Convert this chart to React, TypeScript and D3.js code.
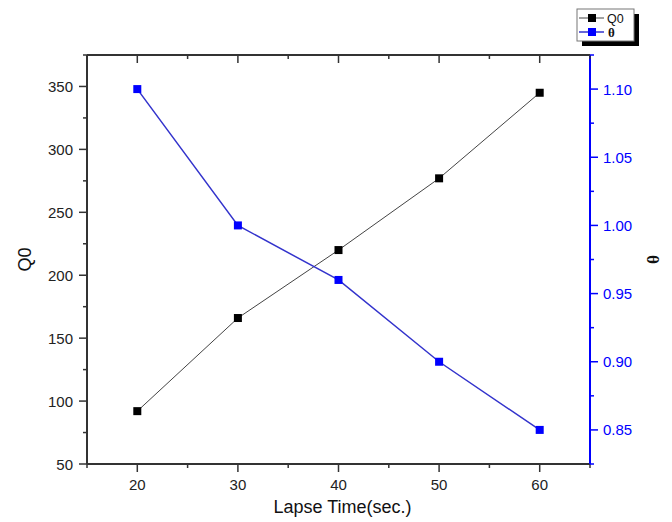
import React from "react";
import * as d3 from "d3";

const lapseTimes = [20, 30, 40, 50, 60];
const q0Values = [92, 166, 220, 277, 345];
const thetaValues = [1.1, 1.0, 0.96, 0.9, 0.85];
const xTicks = [20, 30, 40, 50, 60];
const xMinor = [15, 25, 35, 45, 55, 65];
const leftTicks = [50, 100, 150, 200, 250, 300, 350];
const leftMinor = [75, 125, 175, 225, 275, 325, 375];
const rightTicks = [0.85, 0.9, 0.95, 1.0, 1.05, 1.1];
const rightMinor = [0.825, 0.875, 0.925, 0.975, 1.025, 1.075, 1.125];

const L = 87, R = 590, T = 55, B = 464;
const BLUE = "#0000ff";
const AXIS = "#333";
const FONT = "Liberation Sans, Arial, sans-serif";

export default function App() {
  const x = d3.scaleLinear().domain([15, 65]).range([L, R]);
  const yL = d3.scaleLinear().domain([50, 375]).range([B, T]);
  const yR = d3.scaleLinear().domain([0.825, 1.125]).range([B, T]);

  const q0Line = d3.line<number>().x((_, i) => x(lapseTimes[i])).y((d) => yL(d))(q0Values) || "";
  const thLine = d3.line<number>().x((_, i) => x(lapseTimes[i])).y((d) => yR(d))(thetaValues) || "";
  const ms = 8;

  return (
    <svg width={672} height={522} style={{ position: "absolute", left: 0, top: 0, background: "#fff" }} fontFamily={FONT}>
      <rect width={672} height={522} fill="#fff" />
      <path d={q0Line} fill="none" stroke="#444" strokeWidth={1} />
      <path d={thLine} fill="none" stroke="#3333cc" strokeWidth={1.5} />
      {lapseTimes.map((t, i) => (
        <rect key={"q" + i} x={x(t) - ms / 2} y={yL(q0Values[i]) - ms / 2} width={ms} height={ms} fill="#000" />
      ))}
      {lapseTimes.map((t, i) => (
        <rect key={"t" + i} x={x(t) - ms / 2} y={yR(thetaValues[i]) - ms / 2} width={ms} height={ms} fill={BLUE} />
      ))}

      <line x1={L} x2={R} y1={B} y2={B} stroke={AXIS} strokeWidth={2} />
      <line x1={L} x2={R} y1={T} y2={T} stroke={AXIS} strokeWidth={2} />
      <line x1={L} x2={L} y1={T} y2={B} stroke={AXIS} strokeWidth={2} />
      <line x1={R} x2={R} y1={T} y2={B} stroke={BLUE} strokeWidth={2} />

      {xTicks.map((v) => (
        <g key={"xb" + v}>
          <line x1={x(v)} x2={x(v)} y1={B} y2={B + 8} stroke={AXIS} strokeWidth={1.5} />
          <line x1={x(v)} x2={x(v)} y1={T} y2={T + 8} stroke={AXIS} strokeWidth={1.5} />
          <text x={x(v)} y={490} textAnchor="middle" fontSize={15} fill="#222">{v}</text>
        </g>
      ))}
      {xMinor.map((v) => (
        <g key={"xm" + v}>
          <line x1={x(v)} x2={x(v)} y1={B} y2={B + 4} stroke={AXIS} strokeWidth={1.5} />
          <line x1={x(v)} x2={x(v)} y1={T} y2={T + 4} stroke={AXIS} strokeWidth={1.5} />
        </g>
      ))}

      {leftTicks.map((v) => (
        <g key={"yl" + v}>
          <line x1={L - 8} x2={L} y1={yL(v)} y2={yL(v)} stroke={AXIS} strokeWidth={1.5} />
          <text x={73} y={yL(v) + 5.5} textAnchor="end" fontSize={15} fill="#222">{v}</text>
        </g>
      ))}
      {leftMinor.map((v) => (
        <line key={"ylm" + v} x1={L - 4} x2={L} y1={yL(v)} y2={yL(v)} stroke={AXIS} strokeWidth={1.5} />
      ))}

      {rightTicks.map((v) => (
        <g key={"yr" + v}>
          <line x1={R} x2={R + 8} y1={yR(v)} y2={yR(v)} stroke={BLUE} strokeWidth={1.5} />
          <text x={603} y={yR(v) + 5.5} textAnchor="start" fontSize={15} fill={BLUE}>{v.toFixed(2)}</text>
        </g>
      ))}
      {rightMinor.map((v) => (
        <line key={"yrm" + v} x1={R} x2={R + 4} y1={yR(v)} y2={yR(v)} stroke={BLUE} strokeWidth={1.5} />
      ))}

      <text x={(L + R) / 2 + 4} y={513} textAnchor="middle" fontSize={18} fill="#111">Lapse Time(sec.)</text>
      <text transform={`translate(31,${(T + B) / 2}) rotate(-90)`} textAnchor="middle" fontSize={18} fill="#111">Q0</text>
      <text transform={`translate(647,${(T + B) / 2}) rotate(90)`} textAnchor="middle" fontSize={17} fontWeight="bold" fontFamily="Liberation Serif, Times New Roman, serif" fill="#111">θ</text>

      <rect x={582} y={14} width={57} height={32} fill="#000" />
      <rect x={577} y={9} width={57} height={32} fill="#fff" stroke="#777" strokeWidth={1} />
      <line x1={579} x2={604} y1={18} y2={18} stroke="#444" strokeWidth={1} />
      <rect x={588} y={14} width={8} height={8} fill="#000" />
      <text x={607} y={22.5} fontSize={12.5} fill="#111">Q0</text>
      <line x1={579} x2={604} y1={32} y2={32} stroke="#3333cc" strokeWidth={1.5} />
      <rect x={588} y={28} width={8} height={8} fill={BLUE} />
      <text x={608} y={36.5} fontSize={13} fontWeight="bold" fontFamily="Liberation Serif, Times New Roman, serif" fill="#111">θ</text>
    </svg>
  );
}
